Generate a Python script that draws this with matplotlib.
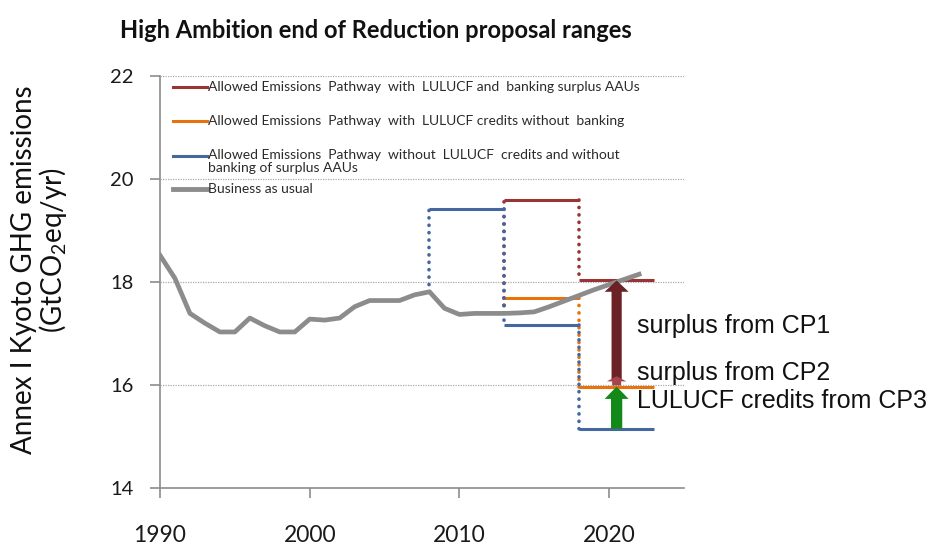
import matplotlib
matplotlib.use("Agg")
import matplotlib.pyplot as plt
from matplotlib.patches import FancyArrow

plt.rcParams['font.family'] = ['Lato', 'DejaVu Sans']
plt.rcParams['mathtext.fontset'] = 'custom'
plt.rcParams['mathtext.rm'] = 'Lato'
plt.rcParams['mathtext.it'] = 'Lato'

# business as usual, 1990-2022
bau_years = list(range(1990, 2023))
bau_values = [18.52, 18.07, 17.39, 17.2, 17.03, 17.03, 17.3, 17.15, 17.03, 17.03,
              17.28, 17.26, 17.3, 17.52, 17.64, 17.64, 17.64, 17.75, 17.81, 17.49,
              17.37, 17.39, 17.39, 17.39, 17.4, 17.42, 17.52, 17.63, 17.74, 17.85,
              17.95, 18.05, 18.15]

# allowed emissions pathways (start year, end year, level)
red_start = [2013, 2018]
red_end = [2018, 2023]
red_level = [19.6, 18.03]

orange_start = [2013, 2018]
orange_end = [2018, 2023]
orange_level = [17.68, 15.97]

blue_start = [2008, 2013, 2018]
blue_end = [2013, 2018, 2023]
blue_level = [19.42, 17.17, 15.15]

# arrows at 2020.5 (from, to)
arrow_year = 2020.5
cp1_arrow = [16.1, 18.03]
cp2_arrow = [15.99, 16.17]
cp3_arrow = [15.15, 15.97]

labels = ['Allowed Emissions  Pathway  with  LULUCF and  banking surplus AAUs',
          'Allowed Emissions  Pathway  with  LULUCF credits without  banking',
          'Allowed Emissions  Pathway  without  LULUCF  credits and without\nbanking of surplus AAUs',
          'Business as usual']

RED = '#9a3336'
ORANGE = '#e8720c'
BLUE = '#44679f'
GRAY = '#8c8c8c'

fig = plt.figure(figsize=(9.43, 5.46), dpi=100)
ax = fig.add_axes([160 / 943, 1 - 488 / 546, 524 / 943, 412 / 546])

dot = dict(linestyle=(0, (0.05, 2.0)), lw=2.6, dash_capstyle='round')


def pathway(starts, ends, levels, color, z):
    prev = None
    for s, e, lv in zip(starts, ends, levels):
        if prev is None:
            base = bau_values[bau_years.index(s)]
        else:
            base = prev
        ax.plot([s, s], [base, lv], color=color, zorder=z, **dot)
        ax.plot([s, e], [lv, lv], color=color, lw=2.2, zorder=z + 0.5,
                solid_capstyle='butt')
        prev = lv


pathway(orange_start, orange_end, orange_level, ORANGE, 3)
pathway(red_start, red_end, red_level, RED, 3)
pathway(blue_start, blue_end, blue_level, BLUE, 4)

ax.plot(bau_years, bau_values, color=GRAY, lw=3.4, zorder=5,
        solid_joinstyle='round')

# arrows
ax.add_patch(FancyArrow(arrow_year, cp1_arrow[0], 0, cp1_arrow[1] - cp1_arrow[0],
                        width=0.68, head_width=1.6, head_length=0.22,
                        length_includes_head=True, color='#6b2226', lw=0, zorder=6))
ax.add_patch(FancyArrow(arrow_year, cp2_arrow[0], 0, cp2_arrow[1] - cp2_arrow[0],
                        width=0.6, head_width=1.3, head_length=0.1,
                        length_includes_head=True, color='#a6434c', lw=0, zorder=6))
ax.add_patch(FancyArrow(arrow_year, cp3_arrow[0], 0, cp3_arrow[1] - cp3_arrow[0],
                        width=0.75, head_width=1.6, head_length=0.24,
                        length_includes_head=True, color='#13891a', lw=0, zorder=6))

txt = dict(family=['Liberation Sans', 'DejaVu Sans'], fontsize=18, color='#111111')
ax.text(2021.85, 17.01, 'surplus from CP1', va='baseline', **txt)
ax.text(2021.85, 16.1, 'surplus from CP2', va='baseline', **txt)
ax.text(2021.85, 15.55, 'LULUCF credits from CP3', va='baseline', **txt)

# hand-made legend
leg_colors = [RED, ORANGE, BLUE, GRAY]
leg_widths = [2.2, 2.2, 2.2, 3.5]
leg_y = [87, 121, 156, 189]
for lab, c, w, py in zip(labels, leg_colors, leg_widths, leg_y):
    ya = (488 - py) / 412
    ax.plot([13 / 524, 47 / 524], [ya, ya], color=c, lw=w, transform=ax.transAxes,
            clip_on=False)
    if '\n' in lab:
        ax.text(48 / 524, ya + 0.018, lab, transform=ax.transAxes, fontsize=10,
                color='#2a2a2a', va='top', linespacing=1.1)
    else:
        ax.text(48 / 524, ya, lab, transform=ax.transAxes, fontsize=10,
                color='#2a2a2a', va='center')

ax.set_xlim(1990, 2025)
ax.set_ylim(14, 22)
ax.set_xticks([1990, 2000, 2010, 2020])
ax.set_yticks([14, 16, 18, 20, 22])
ax.yaxis.grid(True, color='#aaaaaa', linestyle=(0, (1, 1)), lw=0.9)
ax.set_axisbelow(True)
for s in ['top', 'right']:
    ax.spines[s].set_visible(False)
for s in ['left', 'bottom']:
    ax.spines[s].set_color('#8c8c8c')
    ax.spines[s].set_linewidth(1.2)
ax.tick_params(axis='both', direction='out', length=7, width=1.2, color='#8c8c8c',
               labelcolor='#1a1a1a')
ax.tick_params(axis='y', labelsize=14.5, pad=12)
ax.tick_params(axis='x', labelsize=16.5, pad=20)

fig.text(376 / 943, 1 - 30 / 546, 'High Ambition end of Reduction proposal ranges',
         ha='center', va='center', fontsize=17, fontweight='bold', color='#111111')
fig.text(24 / 943, 1 - 270 / 546, 'Annex I Kyoto GHG emissions', rotation=90,
         ha='center', va='center', fontsize=20, color='#111111')
fig.text(53 / 943, 1 - 250 / 546, '(GtCO$_2$eq/yr)', rotation=90,
         ha='center', va='center', fontsize=20, color='#111111')

fig.savefig('out.png', dpi=100)
